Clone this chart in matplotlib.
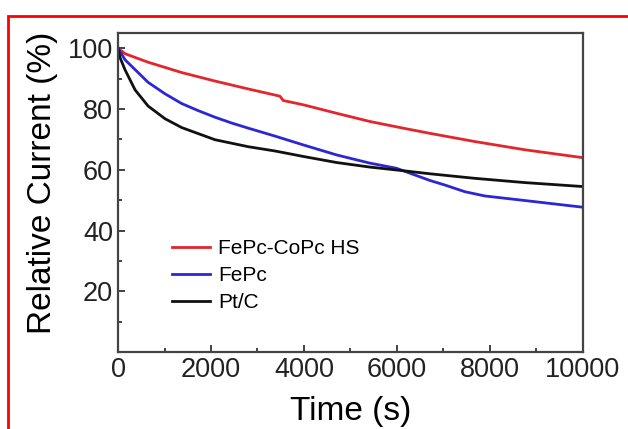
import matplotlib.pyplot as plt
from matplotlib.patches import Rectangle

plt.rcParams['font.family'] = ['Liberation Sans', 'DejaVu Sans']

# values
t_red = [0, 150, 645, 1369, 2086, 2803, 3376, 3484, 3530, 3555, 3985, 4703,
         5419, 6136, 6710, 7677, 8753, 10000]
v_red = [100, 98.2, 95.4, 92.0, 89.2, 86.6, 84.6, 84.2, 83.3, 82.8, 81.4, 78.6,
         75.9, 73.7, 72.0, 69.3, 66.6, 64.0]

t_blue = [0, 150, 645, 1011, 1369, 1720, 2086, 2444, 2803, 3376, 3985, 4703,
          5419, 5993, 6351, 6710, 7032, 7462, 7892, 8753, 10000]
v_blue = [100, 96.2, 88.8, 85.0, 81.8, 79.5, 77.3, 75.4, 73.7, 71.1, 68.2, 64.9,
          62.2, 60.5, 58.5, 56.5, 55.0, 52.8, 51.4, 49.9, 47.7]

t_black = [0, 40, 150, 366, 645, 1011, 1369, 2086, 2803, 3376, 3985, 4703,
           5419, 6136, 6710, 7677, 8753, 10000]
v_black = [100, 97, 92.9, 86.3, 81.0, 76.8, 73.9, 69.9, 67.6, 66.2, 64.4, 62.4,
           60.9, 59.7, 58.7, 57.2, 55.8, 54.5]

labels = ['FePc-CoPc HS', 'FePc', 'Pt/C']

fig = plt.figure(figsize=(6.28, 4.29), dpi=100)
ax = fig.add_axes([0.188, 0.179, 0.74, 0.744])

ax.plot(t_red, v_red, color='#e2262c', lw=2, label=labels[0])
ax.plot(t_blue, v_blue, color='#2b26d6', lw=2, label=labels[1])
ax.plot(t_black, v_black, color='#111111', lw=2, label=labels[2])

ax.set_xlim(0, 10000)
ax.set_ylim(0, 105)
ax.set_xticks([0, 2000, 4000, 6000, 8000, 10000])
ax.set_xticks(range(1000, 10000, 2000), minor=True)
ax.set_yticks([20, 40, 60, 80, 100])
ax.set_yticks([10, 30, 50, 70, 90], minor=True)
ax.tick_params(direction='in', which='both', labelsize=19.5, colors='#222222',
               top=False, right=False)
ax.tick_params(which='major', length=5, width=1.2)
ax.tick_params(which='minor', length=3, width=1.2)
for s in ax.spines.values():
    s.set_color('#444444')
    s.set_linewidth(1.6)

ax.set_xlabel('Time (s)', fontsize=24, labelpad=9)
ax.set_ylabel('Relative Current (%)', fontsize=24)
ax.yaxis.set_label_coords(-0.13, 0.53)

ax.legend(loc='upper left', bbox_to_anchor=(0.099, 0.38), frameon=False,
          fontsize=15, handlelength=1.8, handletextpad=0.4,
          labelspacing=0.38, borderaxespad=0)

# red frame around the figure
fig.patches.append(Rectangle((8 / 628, -0.1), 1.2, 1 - 16 / 429 + 0.1,
                             transform=fig.transFigure, fill=False,
                             edgecolor='red', lw=2))

fig.savefig('out.png', dpi=100)
